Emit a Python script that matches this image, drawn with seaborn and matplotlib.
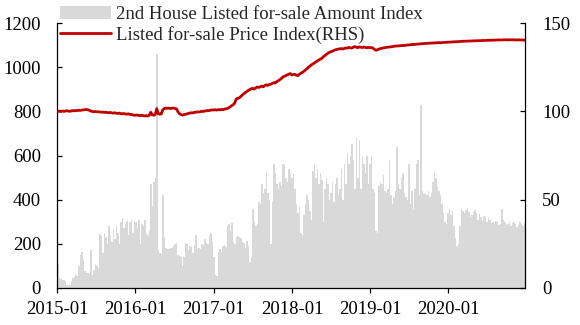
import matplotlib
matplotlib.use("Agg")
import matplotlib.pyplot as plt
import matplotlib.dates as mdates
from matplotlib.patches import Patch
from matplotlib.lines import Line2D
import pandas as pd
import seaborn as sns

# Weekly second-hand housing listing amount index (left axis), one list per year
amount_2015 = [110, 45, 40, 38, 35, 30, 12, 10, 15, 30, 45, 50, 60, 55, 100, 150,
               165, 130, 75, 70, 68, 65, 170, 60, 80, 110, 100, 90, 245, 235, 160, 250,
               230, 200, 280, 240, 210, 265, 220, 285, 250, 200, 300, 315, 270, 290, 305, 240,
               300, 310, 250, 305]
amount_2016 = [300, 270, 310, 200, 290, 280, 310, 250, 240, 260, 470, 370, 480, 500, 1060, 170,
               160, 155, 420, 230, 180, 175, 178, 180, 182, 190, 200, 205, 150, 145, 140, 100,
               140, 205, 200, 170, 190, 185, 160, 195, 240, 175, 180, 175, 200, 195, 220, 205,
               200, 235, 250, 210]
amount_2017 = [140, 60, 55, 165, 175, 165, 190, 195, 185, 280, 290, 260, 295, 210, 200, 230,
               235, 232, 225, 210, 205, 180, 215, 190, 120, 140, 360, 300, 280, 290, 390, 380,
               470, 430, 450, 520, 430, 400, 200, 390, 560, 520, 470, 450, 480, 460, 560, 555,
               500, 480, 540, 520]
amount_2018 = [500, 520, 450, 380, 340, 370, 250, 240, 330, 380, 420, 400, 350, 310, 530, 560,
               500, 540, 470, 520, 490, 300, 450, 500, 470, 400, 430, 480, 390, 470, 500, 420,
               450, 540, 400, 560, 470, 610, 560, 600, 650, 580, 450, 680, 500, 670, 450, 600,
               560, 520, 600, 470]
amount_2019 = [560, 600, 450, 430, 260, 250, 460, 480, 470, 510, 440, 430, 450, 580, 420, 380,
               410, 440, 640, 470, 450, 500, 520, 430, 410, 400, 560, 380, 440, 360, 450, 560,
               580, 420, 830, 440, 425, 430, 420, 440, 410, 430, 480, 520, 500, 460, 440, 420,
               380, 340, 300, 290]
amount_2020 = [340, 360, 330, 350, 280, 225, 190, 200, 280, 360, 350, 340, 355, 362, 345, 320,
               330, 345, 355, 340, 310, 335, 320, 305, 325, 320, 300, 315, 310, 295, 300, 290,
               305, 300, 285, 290, 360, 310, 300, 285, 290, 300, 280, 295, 300, 290, 275, 285,
               300, 290, 280, 295]

# Weekly listed for-sale price index (right axis)
price_2015 = [100.0, 100.1, 99.9, 100.2, 100.0, 100.1, 100.3, 100.2, 100.0, 100.2, 100.4, 100.3,
              100.5, 100.4, 100.6, 100.5, 100.7, 100.8, 100.9, 101.0, 100.9, 100.6, 100.2, 99.9,
              99.8, 99.9, 99.7, 99.8, 99.6, 99.5, 99.6, 99.4, 99.5, 99.3, 99.2, 99.4,
              99.1, 99.0, 99.2, 98.9, 98.8, 99.0, 98.7, 98.6, 98.8, 98.5, 98.4, 98.6,
              98.3, 98.2, 98.0, 97.8]
price_2016 = [97.8, 97.9, 97.7, 97.6, 97.8, 97.5, 97.4, 97.6, 97.3, 97.8, 99.5, 98.0,
              97.8, 98.2, 101.5, 98.6, 98.4, 98.5, 100.8, 101.6, 101.8, 101.7, 101.8, 101.6,
              101.7, 101.9, 101.6, 101.5, 100.0, 98.8, 98.2, 97.9, 98.1, 98.3, 98.5, 98.8,
              99.0, 99.2, 99.1, 99.4, 99.5, 99.7, 99.6, 99.8, 100.0, 99.9, 100.2, 100.3,
              100.5, 100.4, 100.7, 100.8]
price_2017 = [100.8, 100.9, 100.7, 101.0, 100.8, 101.1, 100.9, 101.2, 101.4, 101.6, 102.0, 102.6,
              103.2, 103.8, 104.8, 107.0, 107.4, 107.6, 108.4, 109.2, 110.0, 110.6, 111.2, 111.8,
              112.3, 112.8, 113.0, 112.6, 113.3, 113.8, 113.5, 113.9, 114.3, 113.9, 114.6, 115.0,
              114.7, 115.2, 115.3, 115.8, 116.2, 116.0, 116.8, 117.3, 117.9, 118.5, 119.4, 119.8,
              120.2, 120.6, 121.0, 121.4]
price_2018 = [120.6, 120.8, 121.0, 120.5, 120.2, 120.9, 121.5, 122.0, 122.6, 123.3, 124.0, 124.8,
              125.5, 126.2, 126.8, 127.3, 127.9, 128.5, 129.0, 129.5, 130.0, 130.8, 131.5, 132.2,
              132.8, 133.3, 133.7, 134.0, 134.4, 134.8, 135.0, 135.2, 135.4, 135.5, 135.3, 135.6,
              135.9, 135.7, 136.2, 136.0, 135.8, 136.3, 136.6, 136.4, 136.0, 136.5, 136.3, 136.1,
              136.4, 136.2, 136.0, 136.2]
price_2019 = [136.0, 136.1, 135.8, 135.2, 134.6, 134.8, 135.2, 135.5, 135.7, 135.9, 136.0, 136.2,
              136.3, 136.4, 136.5, 136.6, 136.8, 136.9, 137.0, 137.0, 137.1, 137.2, 137.3, 137.2,
              137.4, 137.5, 137.6, 137.7, 137.8, 137.8, 137.9, 138.0, 138.1, 138.1, 138.2, 138.3,
              138.3, 138.4, 138.5, 138.5, 138.6, 138.6, 138.7, 138.7, 138.8, 138.8, 138.9, 138.8,
              138.9, 139.0, 139.0, 139.1]
price_2020 = [139.1, 139.2, 139.2, 139.3, 139.3, 139.4, 139.4, 139.5, 139.5, 139.6, 139.6, 139.7,
              139.7, 139.7, 139.8, 139.8, 139.8, 139.9, 139.9, 139.9, 140.0, 140.0, 140.0, 140.1,
              140.1, 140.1, 140.2, 140.2, 140.2, 140.3, 140.3, 140.3, 140.3, 140.4, 140.4, 140.4,
              140.4, 140.5, 140.5, 140.5, 140.4, 140.5, 140.5, 140.5, 140.5, 140.4, 140.4, 140.5,
              140.4, 140.4, 140.4, 140.3]

year_ticks = ["2015-01-01", "2016-01-01", "2017-01-01", "2018-01-01", "2019-01-01", "2020-01-01"]
year_labels = ["2015-01", "2016-01", "2017-01", "2018-01", "2019-01", "2020-01"]
amount_ticks = [0, 200, 400, 600, 800, 1000, 1200]
price_ticks = [0, 50, 100, 150]
amount_label = "2nd House Listed for-sale Amount Index"
price_label = "Listed for-sale Price Index(RHS)"

amount = amount_2015 + amount_2016 + amount_2017 + amount_2018 + amount_2019 + amount_2020
price = price_2015 + price_2016 + price_2017 + price_2018 + price_2019 + price_2020
weeks = pd.date_range("2015-01-04", periods=len(amount), freq="7D")
df = pd.DataFrame({"x": mdates.date2num(weeks), "amount": amount, "price": price})

BAR = "#d9d9d9"
RED = "#c00000"
FS = 13.5

sns.set_theme(style="white")
plt.rcParams["font.family"] = ["Liberation Serif", "DejaVu Serif"]
plt.rcParams["axes.linewidth"] = 0.9

fig = plt.figure(figsize=(5.8, 3.25), dpi=100)
ax = fig.add_axes([57 / 580, 37 / 325, 468 / 580, 265 / 325])

sns.barplot(data=df, x="x", y="amount", native_scale=True, width=1.0,
            color=BAR, saturation=1, linewidth=0, edgecolor="none",
            errorbar=None, ax=ax)

ax2 = ax.twinx()
sns.lineplot(data=df, x="x", y="price", color=RED, linewidth=2.0, ax=ax2)

half_week = 3.5
ax.set_xlim(df["x"].iloc[0] - half_week, df["x"].iloc[-1] + half_week)
ax.set_ylim(0, 1200)
ax2.set_ylim(0, 150)

ax.set_xticks(mdates.date2num(pd.to_datetime(year_ticks)))
ax.set_xticklabels(year_labels)
ax.set_yticks(amount_ticks)
ax.set_yticklabels([str(v) for v in amount_ticks])
ax2.set_yticks(price_ticks)
ax2.set_yticklabels([str(v) for v in price_ticks])

for a in (ax, ax2):
    a.set_xlabel("")
    a.set_ylabel("")
    a.spines["top"].set_visible(False)
    for s in a.spines.values():
        s.set_color("black")

ax.spines["right"].set_visible(False)
ax2.spines["left"].set_visible(False)
ax2.spines["bottom"].set_visible(False)

ax.tick_params(axis="x", direction="out", length=3.6, width=0.9, colors="black",
               labelsize=FS, pad=6, bottom=True)
ax.tick_params(axis="y", direction="in", length=3.6, width=0.9, colors="black",
               labelsize=FS, pad=11.5, left=True)
ax2.tick_params(axis="y", direction="in", length=3.6, width=0.9, colors="black",
                labelsize=FS, pad=12.5, right=True)

handles = [Patch(facecolor=BAR, edgecolor="none"), Line2D([], [], color=RED, linewidth=2.0)]
fig.legend(handles, [amount_label, price_label], loc="upper left",
           bbox_to_anchor=(58 / 580, 1 - 4 / 325), frameon=False, fontsize=FS,
           handlelength=2.7, handletextpad=0.3, labelspacing=0.15,
           borderpad=0.1, borderaxespad=0)

fig.savefig("out.png", dpi=100)
